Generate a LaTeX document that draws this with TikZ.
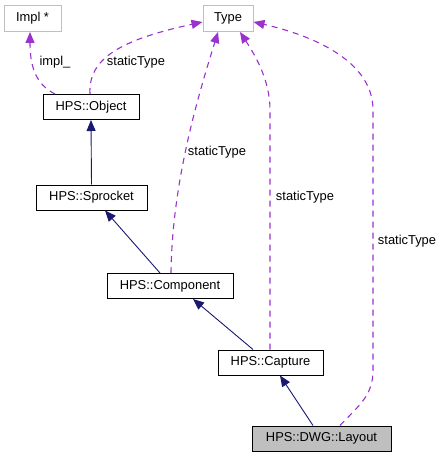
\documentclass[tikz,border=0pt]{standalone}
\usepackage{fontspec}
\setmainfont{Liberation Sans}
\usetikzlibrary{arrows.meta}
\definecolor{dxpurple}{HTML}{9A32CD}
\definecolor{dxnavy}{HTML}{191970}
\definecolor{dxgray}{HTML}{BFBFBF}
\tikzset{
  cls/.style={draw, line width=1pt, fill=white, inner sep=0pt, minimum height=25pt},
  ext/.style={cls, draw=dxgray, minimum height=26pt},
  inherit/.style={draw=dxnavy, line width=0.9pt, -{Triangle[length=11pt,width=9pt]}},
  usage/.style={draw=dxpurple, line width=1.1pt, dash pattern=on 6pt off 5pt, -{Triangle[length=11pt,width=9pt]}},
  lbl/.style={inner sep=1pt, fill=none}
}
\begin{document}
\begin{tikzpicture}[x=1pt, y=-1pt, font=\fontsize{12.9}{15}\selectfont]
\useasboundingbox (0,0) rectangle (444,457);
\node [ext, minimum width=57pt] (impl) at (32.5,18.5) {Impl *};
\node [ext, minimum width=50pt] (type) at (228,18.5) {Type};
\node [cls, minimum width=96pt] (obj) at (91,107) {HPS::Object};
\node [cls, minimum width=111pt] (spr) at (91.5,197.5) {HPS::Sprocket};
\node [cls, minimum width=126pt] (comp) at (170,286) {HPS::Component};
\node [cls, minimum width=105pt] (cap) at (270.5,362.5) {HPS::Capture};
\node [cls, fill=dxgray, minimum width=139pt] (lay) at (321.5,438.5) {HPS::DWG::Layout};
\draw [inherit] (spr.north) -- (obj.south);
\draw [inherit] ([xshift=-10pt]comp.north) -- ([xshift=13.5pt]spr.south);
\draw [inherit] ([xshift=-17.5pt]cap.north) -- ([xshift=23pt]comp.south);
\draw [inherit] ([xshift=-8.5pt]lay.north) -- ([xshift=9.5pt]cap.south);
\draw [usage] ([xshift=-36pt]obj.north) .. controls +(-20,-10) and +(0,33) .. ([xshift=-2.5pt]impl.south);
\draw [usage] ([xshift=-1pt]obj.north) .. controls +(-2,-35) and +(-83,18) .. ([yshift=-3.5pt]type.west);
\draw [usage] ([xshift=1pt]comp.north) .. controls +(1,-93) and +(-18,58) .. ([xshift=-10pt]type.south);
\draw [usage] ([xshift=-0.5pt]cap.north) -- (270,110) .. controls (270,80) and +(15,23) .. ([xshift=12pt]type.south);
\draw [usage] ([xshift=18.5pt]lay.north) .. controls +(20,-21) and (373,395) .. (373,370) -- (373,110) .. controls (373,60) and +(57,13) .. ([yshift=-3.5pt]type.east);
\node [lbl] (limpl) at (55,62) {impl\_};
\node [lbl] (lobj) at (136,62) {staticType};
\node [lbl] (lcomp) at (217,152) {staticType};
\node [lbl] (lcap) at (305,197) {staticType};
\node [lbl] (llay) at (407,241) {staticType};
\end{tikzpicture}
\end{document}
